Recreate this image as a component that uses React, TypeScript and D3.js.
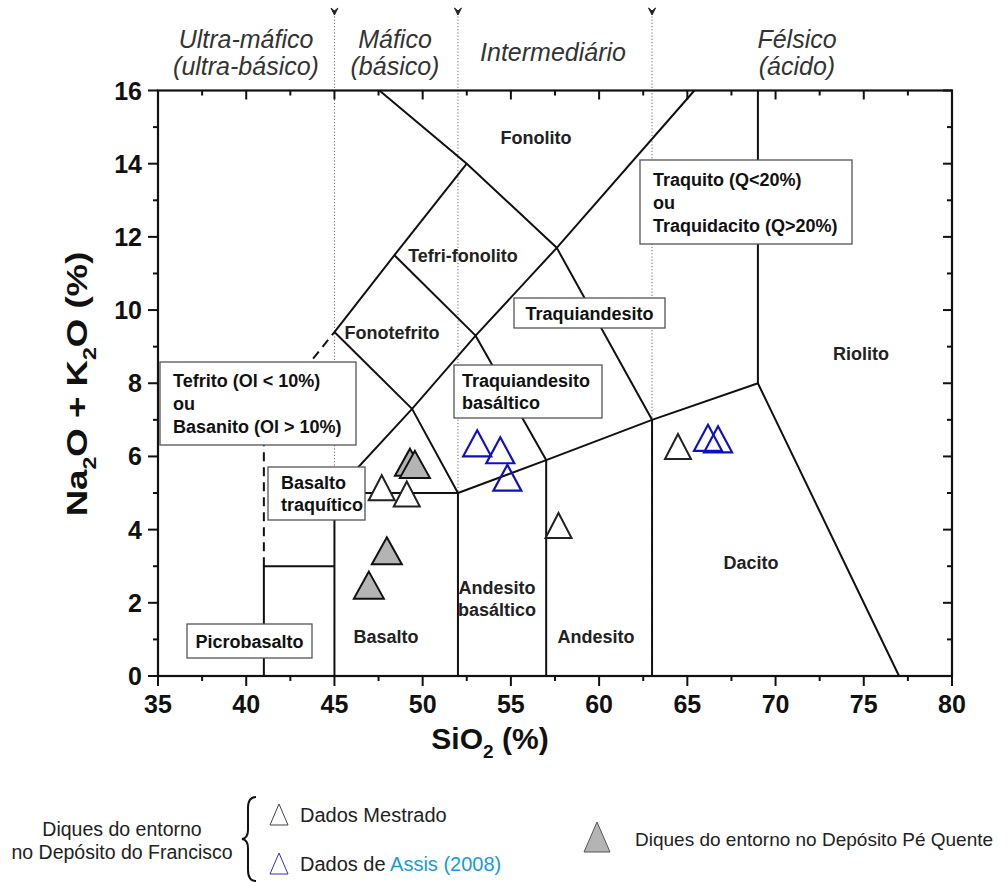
import React from "react";
import * as d3 from "d3";

// ---- Data ----
const xTicks = [35, 40, 45, 50, 55, 60, 65, 70, 75, 80];
const yTicks = [0, 2, 4, 6, 8, 10, 12, 14, 16];
const xMinor = [37.5, 42.5, 47.5, 52.5, 57.5, 62.5, 67.5, 72.5, 77.5];
const yMinor = [1, 3, 5, 7, 9, 11, 13, 15];

// TAS field boundaries (SiO2, Na2O+K2O)
const solidLines: [number, number][][] = [
  [[41, 0], [41, 3], [45, 3]],
  [[45, 0], [45, 5], [52, 5]],
  [[45, 5], [49.4, 7.3], [52, 5]],
  [[52, 0], [52, 5], [57, 5.9], [63, 7], [69, 8], [77, 0]],
  [[57, 0], [57, 5.9]],
  [[63, 0], [63, 7]],
  [[69, 8], [69, 16]],
  [[45, 9.4], [49.4, 7.3], [53, 9.3], [57, 5.9]],
  [[45, 9.4], [48.4, 11.5], [53, 9.3], [57.6, 11.7], [63, 7]],
  [[47.55, 16], [52.5, 14], [57.6, 11.7], [65.4, 16]],
  [[48.4, 11.5], [52.5, 14]],
];
const dashedLines: [number, number][][] = [
  [[41, 3], [41, 7], [45, 9.4]],
];
const dividers = [45, 52, 63];

const mestradoX = [47.68, 49.1, 57.7, 64.47];
const mestradoY = [5.03, 4.86, 4.0, 6.16];
const assisX = [53.09, 54.4, 54.8, 66.17, 66.74];
const assisY = [6.24, 6.05, 5.3, 6.39, 6.35];
const peQuenteX = [49.28, 49.56, 47.97, 46.95];
const peQuenteY = [5.72, 5.66, 3.3, 2.36];

type Lbl = { t: string[]; x: number; y: number };
const fieldLabels: Lbl[] = [
  { t: ["Fonolito"], x: 536, y: 138 },
  { t: ["Tefri-fonolito"], x: 463, y: 256 },
  { t: ["Fonotefrito"], x: 392, y: 333 },
  { t: ["Riolito"], x: 861, y: 354 },
  { t: ["Dacito"], x: 751, y: 563 },
  { t: ["Andesito", "basáltico"], x: 497, y: 588 },
  { t: ["Andesito"], x: 596, y: 637 },
  { t: ["Basalto"], x: 386, y: 637 },
];
const boxLabels = [
  { t: ["Traquiandesito"], x0: 514, y0: 298, x1: 665, y1: 328 },
  { t: ["Traquiandesito", "basáltico"], x0: 454, y0: 365, x1: 602, y1: 418 },
  { t: ["Traquito (Q<20%)", "ou", "Traquidacito (Q>20%)"], x0: 640, y0: 160, x1: 852, y1: 244 },
  { t: ["Tefrito (Ol < 10%)", "ou", "Basanito (Ol > 10%)"], x0: 160, y0: 362, x1: 356, y1: 445 },
  { t: ["Basalto", "traquítico"], x0: 268, y0: 467, x1: 365, y1: 520 },
  { t: ["Picrobasalto"], x0: 187, y0: 624, x1: 312, y1: 658 },
];
const headers = [
  { t: ["Ultra-máfico", "(ultra-básico)"], x: 246 },
  { t: ["Máfico", "(básico)"], x: 395 },
  { t: ["Intermediário"], x: 553 },
  { t: ["Félsico", "(ácido)"], x: 797 },
];

const W = 1008, H = 882;
const L = 158, R = 952, T = 90.5, B = 676;
const xs = d3.scaleLinear().domain([35, 80]).range([L, R]);
const ys = d3.scaleLinear().domain([0, 16]).range([B, T]);
const line = d3.line<[number, number]>().x((d) => xs(d[0])).y((d) => ys(d[1]));

const tri = (cx: number, cy: number, w: number, h: number) =>
  `M${cx},${cy - (2 * h) / 3}L${cx + w / 2},${cy + h / 3}L${cx - w / 2},${cy + h / 3}Z`;

const SANS = "'Liberation Sans', Arial, sans-serif";

export default function App() {
  return (
    <svg width={W} height={H} style={{ display: "block", position: "absolute", left: 0, top: 0, background: "#fff" }}>
      <rect x={0} y={0} width={W} height={H} fill="#fff" />
      {/* divider dotted lines */}
      {dividers.map((d) => (
        <g key={d}>
          <line x1={xs(d)} x2={xs(d)} y1={10} y2={B} stroke="#666" strokeWidth={1} strokeDasharray="1.2,2" />
          <path d={`M${xs(d) - 3.5},${8}L${xs(d)},${15}L${xs(d) + 3.5},${8}L${xs(d)},${11}Z`} fill="#222" stroke="#222" strokeWidth={1} />
        </g>
      ))}
      {/* headers */}
      {headers.map((h, i) => (
        <text key={i} x={h.x} textAnchor="middle" fontFamily={SANS} fontStyle="italic" fontSize={25} fill="#333">
          {h.t.length === 1 ? (
            <tspan x={h.x} y={61}>{h.t[0]}</tspan>
          ) : (
            h.t.map((s, j) => (
              <tspan key={j} x={h.x} y={48 + j * 27}>{s}</tspan>
            ))
          )}
        </text>
      ))}
      {/* field boundaries */}
      {solidLines.map((p, i) => (
        <path key={i} d={line(p) || ""} fill="none" stroke="#111" strokeWidth={2} />
      ))}
      {dashedLines.map((p, i) => (
        <path key={i} d={line(p) || ""} fill="none" stroke="#111" strokeWidth={2} strokeDasharray="9,6" />
      ))}
      {/* plain labels */}
      {fieldLabels.map((l, i) => (
        <text key={i} textAnchor="middle" fontFamily={SANS} fontWeight="bold" fontSize={18} fill="#222">
          {l.t.map((s, j) => (
            <tspan key={j} x={l.x} y={l.y + 6 + j * 22}>{s}</tspan>
          ))}
        </text>
      ))}
      {/* boxed labels */}
      {boxLabels.map((b, i) => (
        <g key={i}>
          <rect x={b.x0} y={b.y0} width={b.x1 - b.x0} height={b.y1 - b.y0} fill="#fff" stroke="#555" strokeWidth={1.3} />
          <text fontFamily={SANS} fontWeight="bold" fontSize={18} fill="#111">
            {b.t.map((s, j) => {
              const n = b.t.length;
              const cy = (b.y0 + b.y1) / 2;
              const lh = n === 3 ? 23 : 22;
              const y = cy + (j - (n - 1) / 2) * lh + 6.5;
              return (
                <tspan key={j} x={n === 1 ? (b.x0 + b.x1) / 2 : b.x0 + (b.x0 === 454 ? 8 : 13)} y={y} textAnchor={n === 1 ? "middle" : "start"}>
                  {s}
                </tspan>
              );
            })}
          </text>
        </g>
      ))}
      {/* data points */}
      {mestradoX.map((x, i) => (
        <path key={"m" + i} d={tri(xs(x), ys(mestradoY[i]), 26, 25)} fill="#fff" stroke="#222" strokeWidth={2} />
      ))}
      {peQuenteX.map((x, i) => (
        <path key={"p" + i} d={tri(xs(x), ys(peQuenteY[i]), 30, 27)} fill="#b4b4b4" stroke="#111" strokeWidth={2} />
      ))}
      {assisX.map((x, i) => (
        <path key={"a" + i} d={tri(xs(x), ys(assisY[i]), 28, 26)} fill="none" stroke="#1010c0" strokeWidth={2.2} />
      ))}
      {/* frame */}
      <rect x={L} y={T} width={R - L} height={B - T} fill="none" stroke="#111" strokeWidth={2.2} />
      {/* ticks */}
      {xTicks.map((t) => (
        <g key={"xt" + t}>
          <line x1={xs(t)} x2={xs(t)} y1={B} y2={B + 10} stroke="#111" strokeWidth={2} />
          <line x1={xs(t)} x2={xs(t)} y1={T} y2={T + 9} stroke="#111" strokeWidth={2} />
          <text x={xs(t)} y={B + 37} textAnchor="middle" fontFamily={SANS} fontWeight="bold" fontSize={25} fill="#111">{t}</text>
        </g>
      ))}
      {xMinor.map((t) => (
        <g key={"xm" + t}>
          <line x1={xs(t)} x2={xs(t)} y1={B} y2={B + 5} stroke="#111" strokeWidth={2} />
          <line x1={xs(t)} x2={xs(t)} y1={T} y2={T + 5} stroke="#111" strokeWidth={2} />
        </g>
      ))}
      {yTicks.map((t) => (
        <g key={"yt" + t}>
          <line x1={L - 10} x2={L} y1={ys(t)} y2={ys(t)} stroke="#111" strokeWidth={2} />
          <line x1={R - 9} x2={R} y1={ys(t)} y2={ys(t)} stroke="#111" strokeWidth={2} />
          <text x={L - 16} y={ys(t) + 9} textAnchor="end" fontFamily={SANS} fontWeight="bold" fontSize={25} fill="#111">{t}</text>
        </g>
      ))}
      {yMinor.map((t) => (
        <g key={"ym" + t}>
          <line x1={L - 5} x2={L} y1={ys(t)} y2={ys(t)} stroke="#111" strokeWidth={2} />
          <line x1={R - 5} x2={R} y1={ys(t)} y2={ys(t)} stroke="#111" strokeWidth={2} />
        </g>
      ))}
      {/* axis titles */}
      <text x={490} y={749} textAnchor="middle" fontFamily={SANS} fontWeight="bold" fontSize={30} fill="#111">
        SiO<tspan dy={9} fontSize={19}>2</tspan><tspan dy={-9}> (%)</tspan>
      </text>
      <text transform="translate(87,384) rotate(-90) scale(1.22,1)" textAnchor="middle" fontFamily={SANS} fontWeight="bold" fontSize={30} fill="#111">
        Na<tspan dy={9} fontSize={19}>2</tspan><tspan dy={-9}>O + K</tspan><tspan dy={9} fontSize={19}>2</tspan><tspan dy={-9}>O (%)</tspan>
      </text>
      {/* legend */}
      <text textAnchor="middle" fontFamily={SANS} fontSize={19.5} fill="#222">
        <tspan x={122} y={836}>Diques do entorno</tspan>
        <tspan x={122} y={859}>no Depósito do Francisco</tspan>
      </text>
      <path d="M256,797 Q248,797 248,808 L248,830 Q248,838 242,839 Q248,840 248,848 L248,870 Q248,881 256,881" fill="none" stroke="#111" strokeWidth={2} />
      <path d={tri(279, 818, 18, 21)} fill="#fff" stroke="#444" strokeWidth={1} />
      <text x={300} y={822} fontFamily={SANS} fontSize={20} fill="#222">Dados Mestrado</text>
      <path d={tri(279, 867, 18, 21)} fill="#fff" stroke="#3030c0" strokeWidth={1} />
      <text x={300} y={871} fontFamily={SANS} fontSize={20} fill="#222">
        Dados de <tspan fill="#1a9ad6">Assis (2008)</tspan>
      </text>
      <path d={tri(597, 842, 26, 30)} fill="#b4b4b4" stroke="#555" strokeWidth={1} />
      <text x={635} y={846} fontFamily={SANS} fontSize={19} fill="#222">Diques do entorno no Depósito Pé Quente</text>
    </svg>
  );
}
